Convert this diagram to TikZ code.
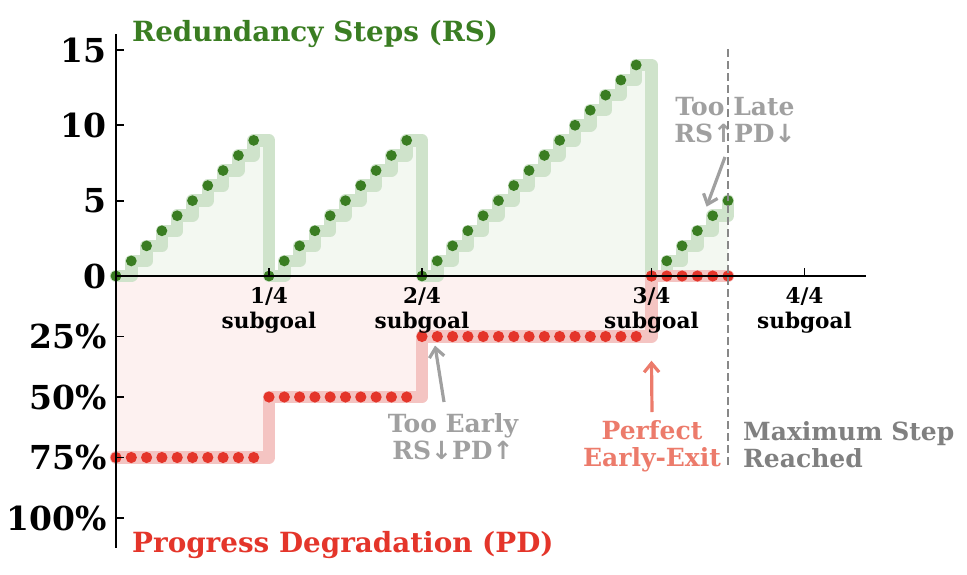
\documentclass[tikz,border=0pt]{standalone}
\usepackage{fontspec}
\setmainfont{DejaVu Serif}
\newfontfamily\arrowfont{DejaVu Sans}
\usetikzlibrary{arrows.meta}
\definecolor{rsgreen}{HTML}{3A7D22}
\definecolor{pdred}{HTML}{E4352A}
\definecolor{gband}{HTML}{CFE3CB}
\definecolor{gfill}{HTML}{F3F8F1}
\definecolor{rband}{HTML}{F4C4C2}
\definecolor{rfill}{HTML}{FDF1F0}
\definecolor{annogray}{HTML}{A0A0A0}
\definecolor{maxgray}{HTML}{808080}
\definecolor{dashgray}{HTML}{888888}
\definecolor{perfect}{HTML}{EC7B6B}
\newcommand{\ua}{{\arrowfont\char"2191}}
\newcommand{\da}{{\arrowfont\char"2193}}
\tikzset{
  gbandline/.style={draw=gband, line width=12.5pt, line join=round, line cap=round},
  rbandline/.style={draw=rband, line width=12.5pt, line join=round, line cap=round},
  gdot/.style={fill=rsgreen},
  rdot/.style={fill=pdred},
  axisline/.style={draw=black, line width=2.4pt},
  tickline/.style={draw=black, line width=1.8pt},
  ylab/.style={anchor=east, inner sep=0pt, font=\fontsize{33}{33}\selectfont\bfseries},
  xlab/.style={anchor=north, inner sep=0pt, align=center, font=\fontsize{21.6}{25}\selectfont\bfseries},
  anno/.style={inner sep=0pt, align=center, font=\fontsize{25}{27}\selectfont\bfseries},
  annoarrow/.style={line width=3.2pt, -{Straight Barb[length=9pt,width=15pt]}},
  rsdata/.style={shift={(116,276)}, x=15.3pt, y=15.07pt},
  pddata/.style={shift={(116,276)}, x=15.3pt, y=-60.5pt},
}
\begin{document}
\begin{tikzpicture}[x=1pt,y=-1pt]
\useasboundingbox (0,0) rectangle (967,574);
% ---------- green (RS) fill
\begin{scope}[rsdata]
  \fill[gfill] (0,0)
    \foreach \j in {0,...,8} { -- (\j+1,\j) -- (\j+1,\j+1) } -- (10,9) -- (10,0)
    \foreach \j in {0,...,8} { -- (10+\j+1,\j) -- (10+\j+1,\j+1) } -- (20,9) -- (20,0)
    \foreach \j in {0,...,13} { -- (20+\j+1,\j) -- (20+\j+1,\j+1) } -- (35,14) -- (35,0)
    \foreach \j in {0,...,4} { -- (35+\j+1,\j) -- (35+\j+1,\j+1) } -- (40,0) -- cycle;
\end{scope}
% ---------- red (PD) fill
\begin{scope}[pddata]
  \fill[rfill] (0,0) -- (0,3) -- (10,3) -- (10,2) -- (20,2) -- (20,1) -- (35,1) -- (35,0) -- (40,0) -- cycle;
\end{scope}
% ---------- bands
\begin{scope}[rsdata]
  \draw[gbandline] (0,0)
    \foreach \j in {0,...,8} { -- (\j+1,\j) -- (\j+1,\j+1) } -- (10,9) -- (10,0)
    \foreach \j in {0,...,8} { -- (10+\j+1,\j) -- (10+\j+1,\j+1) } -- (20,9) -- (20,0)
    \foreach \j in {0,...,13} { -- (20+\j+1,\j) -- (20+\j+1,\j+1) } -- (35,14) -- (35,0)
    \foreach \j in {0,...,4} { -- (35+\j+1,\j) -- (35+\j+1,\j+1) };
\end{scope}
\begin{scope}[pddata]
  \draw[rbandline] (0,3) -- (10,3) -- (10,2) -- (20,2) -- (20,1) -- (35,1) -- (35,0) -- (40,0);
\end{scope}
% ---------- dots
\begin{scope}[rsdata]
  \foreach \j in {0,...,9} { \fill[gdot] (\j,\j) circle[radius=5.4pt]; }
  \foreach \j in {0,...,9} { \fill[gdot] (10+\j,\j) circle[radius=5.4pt]; }
  \foreach \j in {0,...,14} { \fill[gdot] (20+\j,\j) circle[radius=5.4pt]; }
  \foreach \j in {0,...,5} { \fill[gdot] (35+\j,\j) circle[radius=5.4pt]; }
  \coordinate (lateTarget) at (38.6,4.6);
\end{scope}
\begin{scope}[pddata]
  \foreach \i in {0,...,9} { \fill[rdot] (\i,3) circle[radius=5.6pt]; }
  \foreach \i in {10,...,19} { \fill[rdot] (\i,2) circle[radius=5.6pt]; }
  \foreach \i in {20,...,34} { \fill[rdot] (\i,1) circle[radius=5.6pt]; }
  \foreach \i in {35,...,40} { \fill[rdot] (\i,0) circle[radius=5.6pt]; }
  \coordinate (earlyTarget) at (20.85,1.15);
  \coordinate (perfectTarget) at (35,1.4);
\end{scope}
% ---------- axes
\coordinate (ytop) at (116,34);
\coordinate (ybot) at (116,548);
\coordinate (xl) at (116,276);
\coordinate (xr) at (866,276);
\draw[axisline] (ytop) -- (ybot);
\draw[axisline] (xl) -- (xr);
\foreach \y/\t in {50/15, 125.3/10, 200.6/5, 276/0, 336.5/25\%, 397/50\%, 457.5/75\%, 518/100\%} {
  \draw[tickline] (116,\y) -- (124,\y);
  \node[ylab] at (107,\y) {\t};
}
\foreach \x/\t in {269/1, 422/2, 651.5/3, 804.5/4} {
  \draw[tickline] (\x,276) -- (\x,268);
  \node[xlab] at (\x,287) {\t/4\\subgoal};
}
% ---------- titles
\node[anchor=west, inner sep=0pt, text=rsgreen, font=\fontsize{27.8}{28}\selectfont\bfseries] (rstitle) at (132,34) {Redundancy Steps (RS)};
\node[anchor=west, inner sep=0pt, text=pdred, font=\fontsize{27.8}{28}\selectfont\bfseries] (pdtitle) at (132,545) {Progress Degradation (PD)};
% ---------- annotations
\node[anno, text=annogray] (late) at (735,120) {Too Late\\RS\ua PD\da};
\node[anno, text=annogray] (early) at (453,437) {Too Early\\RS\da PD\ua};
\node[anno, text=perfect] (perfectlab) at (652,446) {Perfect\\Early-Exit};
\node[anno, anchor=west, align=left, text=maxgray] (maxlab) at (743,445) {Maximum Step\\Reached};
\coordinate (lateStart) at (725,157);
\coordinate (earlyStart) at (444,402);
\coordinate (perfectStart) at (652,412);
\draw[annoarrow, draw=annogray] (lateStart) -- (lateTarget);
\draw[annoarrow, draw=annogray] (earlyStart) -- (earlyTarget);
\draw[annoarrow, draw=perfect] (perfectStart) -- (perfectTarget);
% ---------- dashed max-step line
\coordinate (dtop) at (728,49);
\coordinate (dbot) at (728,468);
\draw[draw=dashgray, line width=2.4pt, dash pattern=on 8pt off 4pt] (dtop) -- (dbot);
\end{tikzpicture}
\end{document}
